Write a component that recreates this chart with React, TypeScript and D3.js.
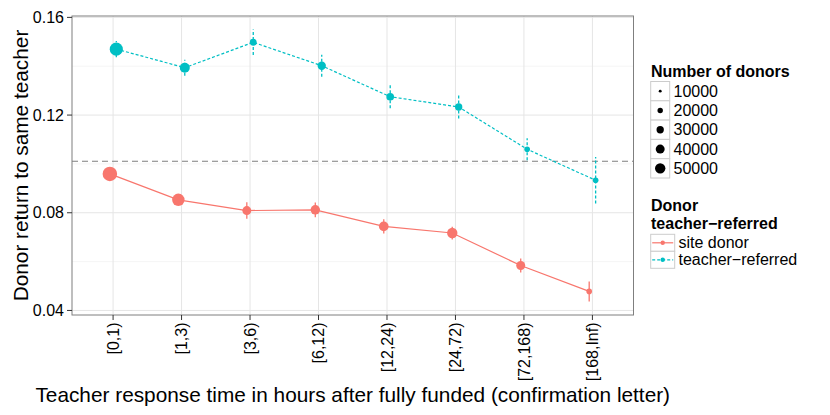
import React from "react";
import * as d3 from "d3";

const categories = ["[0,1)", "[1,3)", "[3,6)", "[6,12)", "[12,24)", "[24,72)", "[72,168)", "[168,Inf)"];
const siteValues = [0.0959, 0.0853, 0.0809, 0.0812, 0.0744, 0.0717, 0.0584, 0.0478];
const siteErrors = [0.0015, 0.0018, 0.0034, 0.003, 0.0029, 0.0026, 0.0029, 0.0041];
const siteDonors = [85000, 66000, 40000, 43000, 45000, 50000, 40000, 21000];
const teacherValues = [0.147, 0.1394, 0.1498, 0.1402, 0.1275, 0.1233, 0.106, 0.0933];
const teacherErrors = [0.0033, 0.0033, 0.0052, 0.0045, 0.0047, 0.0047, 0.0045, 0.0095];
const teacherDonors = [72000, 47000, 27500, 36000, 32000, 30000, 21000, 21000];
const referenceLine = 0.1011;
const yTicks = [0.04, 0.08, 0.12, 0.16];
const yMinorTicks = [0.06, 0.1, 0.14];
const sizeBreaks = [10000, 20000, 30000, 40000, 50000];
const seriesNames = ["site donor", "teacher\u2212referred"];

const W = 830;
const H = 415;
const P = { left: 72, right: 633.5, top: 16, bottom: 315 };
const FONT = "'Liberation Sans', Arial, Helvetica, sans-serif";
const COLORS = ["#F8766D", "#00BFC4"];
const DASHES = [undefined, "3,2"];

export default function App() {
  const x = d3.scalePoint<string>().domain(categories).range([P.left, P.right]).padding(0.6);
  const allLo = [...siteValues.map((v, i) => v - siteErrors[i]), ...teacherValues.map((v, i) => v - teacherErrors[i])];
  const allHi = [...siteValues.map((v, i) => v + siteErrors[i]), ...teacherValues.map((v, i) => v + teacherErrors[i])];
  const lo = d3.min(allLo)!;
  const hi = d3.max(allHi)!;
  const pad = (hi - lo) * 0.05;
  const y = d3.scaleLinear().domain([lo - pad, hi + pad]).range([P.bottom, P.top]);
  const r = d3.scalePow().exponent(0.5).domain([10000, 50000]).range([1.45, 5.2]);
  const dodge = x.step() * 0.047;

  const series = [
    { values: siteValues, errors: siteErrors, donors: siteDonors, off: -dodge },
    { values: teacherValues, errors: teacherErrors, donors: teacherDonors, off: dodge },
  ];

  const lg1Top = 81.5;
  const lg1Key = 19.3;
  const lg2Top = 234.3;
  const lg2Key = 17;
  const lgX = 650.7;

  return (
    <svg width={W} height={H} style={{ position: "absolute", left: 0, top: 0, background: "#fff" }} fontFamily={FONT}>
      <rect x={0} y={0} width={W} height={H} fill="#fff" />
      {yMinorTicks.map((t) => (
        <line key={"mn" + t} x1={P.left} x2={P.right} y1={y(t)} y2={y(t)} stroke="#F2F2F2" strokeWidth={0.8} />
      ))}
      {yTicks.map((t) => (
        <line key={"mj" + t} x1={P.left} x2={P.right} y1={y(t)} y2={y(t)} stroke="#E5E5E5" strokeWidth={1} />
      ))}
      {categories.map((c) => (
        <line key={"vg" + c} x1={x(c)} x2={x(c)} y1={P.top} y2={P.bottom} stroke="#E5E5E5" strokeWidth={1} />
      ))}
      <line x1={P.left} x2={P.right} y1={y(referenceLine)} y2={y(referenceLine)} stroke="#7F7F7F" strokeWidth={1.1} strokeDasharray="6,4" />
      {series.map((s, si) => {
        const line = d3
          .line<number>()
          .x((_, i) => x(categories[i])! + s.off)
          .y((d) => y(d));
        return (
          <g key={"s" + si}>
            <path d={line(s.values)!} fill="none" stroke={COLORS[si]} strokeWidth={1.2} strokeDasharray={DASHES[si]} />
            {s.values.map((v, i) => (
              <line
                key={"e" + i}
                x1={x(categories[i])! + s.off}
                x2={x(categories[i])! + s.off}
                y1={y(v - s.errors[i])}
                y2={y(v + s.errors[i])}
                stroke={COLORS[si]}
                strokeWidth={1.3}
                strokeDasharray={DASHES[si]}
              />
            ))}
            {s.values.map((v, i) => (
              <circle key={"p" + i} cx={x(categories[i])! + s.off} cy={y(v)} r={r(s.donors[i])} fill={COLORS[si]} />
            ))}
          </g>
        );
      })}
      <rect x={P.left} y={P.top} width={P.right - P.left} height={P.bottom - P.top} fill="none" stroke="#7F7F7F" strokeWidth={1} />
      {yTicks.map((t) => (
        <g key={"yt" + t}>
          <line x1={P.left - 5} x2={P.left} y1={y(t)} y2={y(t)} stroke="#333" strokeWidth={1} />
          <text x={P.left - 8} y={y(t) + 5.6} textAnchor="end" fontSize={16} fill="#000">
            {t.toFixed(2)}
          </text>
        </g>
      ))}
      {categories.map((c) => (
        <g key={"xt" + c}>
          <line x1={x(c)} x2={x(c)} y1={P.bottom} y2={P.bottom + 5} stroke="#333" strokeWidth={1} />
          <text
            transform={`translate(${x(c)! + 5.6},${P.bottom + 7.5}) rotate(-90)`}
            textAnchor="end"
            fontSize={16}
            fill="#000"
          >
            {c}
          </text>
        </g>
      ))}
      <text transform={`translate(28,${(P.top + P.bottom) / 2}) rotate(-90)`} textAnchor="middle" fontSize={20.8} fill="#000">
        Donor return to same teacher
      </text>
      <text x={(P.left + P.right) / 2} y={402} textAnchor="middle" fontSize={20.8} fill="#000">
        Teacher response time in hours after fully funded (confirmation letter)
      </text>
      <text x={651} y={77} fontSize={16} fontWeight="bold" fill="#000">
        Number of donors
      </text>
      {sizeBreaks.map((b, i) => {
        const top = lg1Top + i * lg1Key;
        return (
          <g key={"lg1" + b}>
            <rect x={lgX} y={top} width={19} height={lg1Key} fill="#fff" stroke="#CCCCCC" strokeWidth={1} />
            <circle cx={lgX + 9.5} cy={top + lg1Key / 2} r={r(b)} fill="#000" />
            <text x={673.5} y={top + lg1Key / 2 + 5.6} fontSize={16} fill="#000">
              {b}
            </text>
          </g>
        );
      })}
      <text x={651} y={211} fontSize={16} fontWeight="bold" fill="#000">
        Donor
      </text>
      <text x={651} y={229} fontSize={16} fontWeight="bold" fill="#000">
        {"teacher\u2212referred"}
      </text>
      {seriesNames.map((n, i) => {
        const top = lg2Top + i * lg2Key;
        const cy = top + lg2Key / 2;
        return (
          <g key={"lg2" + i}>
            <rect x={lgX} y={top} width={24} height={lg2Key} fill="#fff" stroke="#CCCCCC" strokeWidth={1} />
            <line x1={lgX + 1.5} x2={lgX + 22.5} y1={cy} y2={cy} stroke={COLORS[i]} strokeWidth={1.2} strokeDasharray={DASHES[i]} />
            <circle cx={lgX + 12} cy={cy} r={2.2} fill={COLORS[i]} />
            <text x={678.5} y={cy + 5.6} fontSize={16} fill="#000">
              {n}
            </text>
          </g>
        );
      })}
    </svg>
  );
}
